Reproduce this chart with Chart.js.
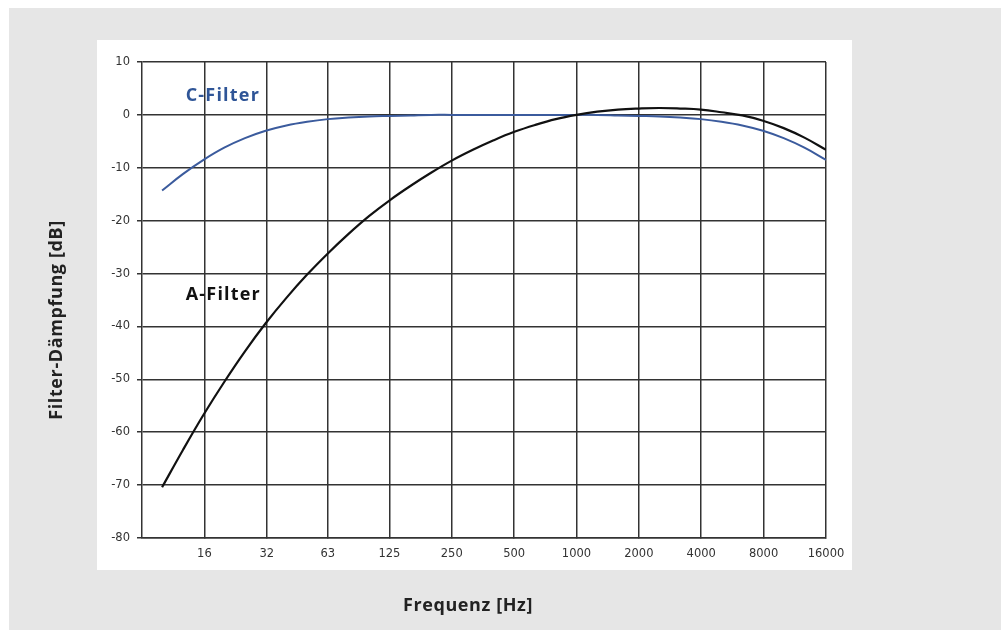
<!DOCTYPE html>
<html>
<head>
<meta charset="utf-8">
<script src="https://cdn.jsdelivr.net/npm/chart.js@4/dist/chart.umd.min.js"></script>
<style>
  html, body { margin: 0; padding: 0; background: #fff; }
  canvas { display: block; }
</style>
</head>
<body>
<canvas id="filterChart" width="1001" height="630"></canvas>
<script>
// Terzband-Mittenfrequenzen [Hz] (exakt, Basis 10) und Filterkurven [dB]
const freqs = [10, 12.59, 15.85, 19.95, 25.12, 31.62, 39.81, 50.12, 63.1, 79.43, 100, 125.9, 158.5, 199.5,
  251.2, 316.2, 398.1, 501.2, 631, 794.3, 1000, 1259, 1585, 1995, 2512, 3162, 3981, 5012, 6310, 7943,
  10000, 12589, 16000];
const aFilter = [-70.4, -63.4, -56.7, -50.5, -44.7, -39.4, -34.6, -30.2, -26.2, -22.5, -19.1, -16.1, -13.4, -10.9,
  -8.6, -6.6, -4.8, -3.2, -1.9, -0.8, 0, 0.6, 1.0, 1.2, 1.3, 1.2, 1.0, 0.5, -0.1, -1.1, -2.5, -4.3, -6.6];
const cFilter = [-14.3, -11.2, -8.5, -6.2, -4.4, -3.0, -2.0, -1.3, -0.8, -0.5, -0.3, -0.2, -0.1, 0, 0, 0, 0, 0,
  0, 0, 0, 0, -0.1, -0.2, -0.3, -0.5, -0.8, -1.3, -2.0, -3.0, -4.4, -6.2, -8.5];

// Achsenbeschriftung
const xTicks = [16, 32, 63, 125, 250, 500, 1000, 2000, 4000, 8000, 16000];
const xTickLabels = ['16', '32', '63', '125', '250', '500', '1000', '2000', '4000', '8000', '16000'];
const yMin = -80, yMax = 10, yStep = 10;

const gridColor = '#333333';
const tickFont = { family: '"DejaVu Sans", sans-serif', size: 11.5 };

// Hintergrund: grauer Rahmen + weisses Feld
const backgroundPlugin = {
  id: 'background',
  beforeDraw(chart) {
    const ctx = chart.ctx;
    ctx.save();
    ctx.fillStyle = '#ffffff';
    ctx.fillRect(0, 0, chart.width, chart.height);
    ctx.fillStyle = '#e6e6e6';
    ctx.fillRect(9, 8, chart.width - 9, chart.height - 8);
    ctx.fillStyle = '#ffffff';
    ctx.fillRect(97, 40, 755, 530);
    ctx.restore();
  }
};

// Achsentitel und Kurvenbeschriftungen
const labelsPlugin = {
  id: 'labels',
  afterDraw(chart) {
    const ctx = chart.ctx;
    const x = chart.scales.x, y = chart.scales.y;
    ctx.save();
    ctx.font = '700 18px "Open Sans", sans-serif';
    ctx.letterSpacing = '0.6px';
    ctx.fillStyle = '#222';
    ctx.textAlign = 'center';
    ctx.textBaseline = 'middle';
    ctx.fillText('Frequenz [Hz]', 468, 606);
    ctx.translate(57, 320);
    ctx.rotate(-Math.PI / 2);
    ctx.fillText('Filter-Dämpfung [dB]', 0, 0);
    ctx.restore();

    ctx.save();
    ctx.font = '700 18px "Open Sans", sans-serif';
    ctx.letterSpacing = '1.2px';
    ctx.textAlign = 'left';
    ctx.textBaseline = 'middle';
    ctx.fillStyle = '#2f5597';
    ctx.fillText('C-Filter', x.getPixelForValue(13), y.getPixelForValue(3.6));
    ctx.fillStyle = '#111';
    ctx.fillText('A-Filter', x.getPixelForValue(13), y.getPixelForValue(-34));
    ctx.restore();
  }
};

const ctx = document.getElementById('filterChart').getContext('2d');

new Chart(ctx, {
  type: 'line',
  data: {
    datasets: [
      {
        label: 'A-Filter',
        data: freqs.map((f, i) => ({ x: f, y: aFilter[i] })),
        borderColor: '#111111',
        borderWidth: 2.2,
        pointRadius: 0,
        tension: 0.4,
        fill: false
      },
      {
        label: 'C-Filter',
        data: freqs.map((f, i) => ({ x: f, y: cFilter[i] })),
        borderColor: '#3b5b9d',
        borderWidth: 2,
        pointRadius: 0,
        tension: 0.4,
        fill: false
      }
    ]
  },
  options: {
    responsive: false,
    animation: false,
    layout: { padding: { top: 62, right: 175, left: 0, bottom: 0 } },
    plugins: {
      legend: { display: false },
      tooltip: { enabled: false }
    },
    scales: {
      x: {
        type: 'logarithmic',
        min: 8,
        max: 16000,
        afterBuildTicks(scale) {
          scale.ticks = xTicks.map(v => ({ value: v }));
        },
        afterFit(scale) { scale.height = 92; },
        ticks: {
          autoSkip: false,
          maxRotation: 0,
          padding: 9,
          color: '#333',
          font: tickFont,
          callback: (v, i) => xTickLabels[i]
        },
        grid: { color: gridColor, lineWidth: 1.5, tickLength: 0 },
        border: { color: gridColor, width: 1.5 }
      },
      y: {
        min: yMin,
        max: yMax,
        afterFit(scale) { scale.width = 142; },
        ticks: {
          stepSize: yStep,
          padding: 7,
          color: '#333',
          font: tickFont
        },
        grid: { color: gridColor, lineWidth: 1.5, tickLength: 5 },
        border: { color: gridColor, width: 1.5 }
      }
    }
  },
  plugins: [backgroundPlugin, labelsPlugin]
});
</script>
</body>
</html>
